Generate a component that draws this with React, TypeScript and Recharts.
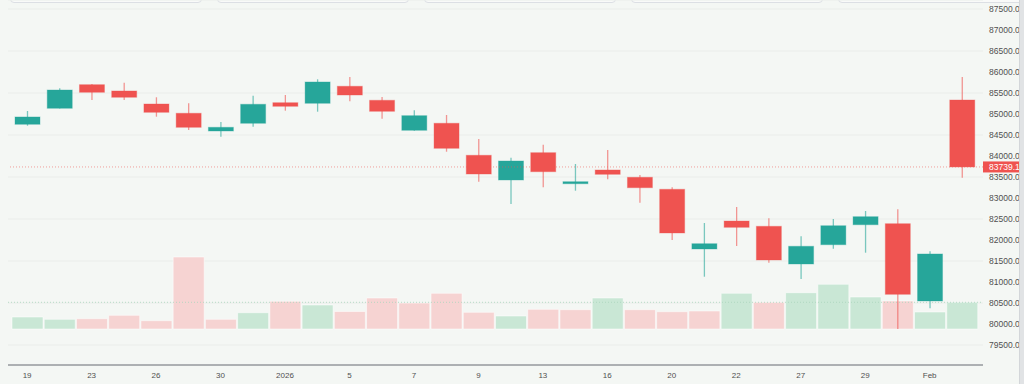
import { Bar, CartesianGrid, Cell, ComposedChart, ReferenceLine, XAxis, YAxis } from "recharts";

const days = ["19", "22", "23", "24", "26", "29", "30", "31", "2026", "2", "5", "6", "7", "8", "9", "12", "13", "14", "16", "19", "20", "21", "22", "23", "27", "28", "29", "30", "Feb", "2"];

const opens = [84755, 85136, 85698, 85548, 85238, 85017, 84595, 84779, 85269, 85255, 85660, 85326, 84612, 84779, 84017, 83429, 84079, 83340, 83667, 83493, 83207, 81786, 82452, 82326, 81429, 81888, 82364, 82388, 80548, 85333];
const highs = [85071, 85612, 85714, 85745, 85398, 85255, 84810, 85436, 85452, 85826, 85881, 85405, 85088, 84976, 84405, 83960, 84269, 83810, 84143, 83548, 83255, 82405, 82786, 82517, 82088, 82500, 82690, 82731, 81731, 85881];
const lows = [84721, 85130, 85333, 85333, 84936, 84619, 84460, 84698, 85079, 85055, 85302, 84888, 84600, 84102, 83388, 82857, 83255, 83174, 83445, 82888, 82000, 81126, 81857, 81460, 81071, 81793, 81698, 79881, 80374, 83483];
const closes = [84929, 85571, 85517, 85398, 85040, 84683, 84683, 85231, 85183, 85762, 85452, 85064, 84960, 84183, 83571, 83881, 83626, 83388, 83564, 83245, 82167, 81912, 82302, 81524, 81850, 82340, 82555, 80707, 81667, 83739.13];

const volumes = [1200, 970, 1030, 1370, 830, 7200, 970, 1630, 2770, 2400, 1750, 3100, 2600, 3570, 1670, 1300, 1970, 1930, 3100, 1930, 1730, 1800, 3570, 2670, 3630, 4470, 3200, 2800, 1700, 2670];
const volumeSide = ["up", "up", "down", "down", "down", "down", "down", "up", "down", "up", "down", "down", "down", "down", "down", "up", "down", "down", "up", "down", "down", "down", "up", "down", "up", "up", "up", "down", "up", "up"];

const priceTicks = [79500, 80000, 80500, 81000, 81500, 82000, 82500, 83000, 83500, 84000, 84500, 85000, 85500, 86000, 86500, 87000, 87500];

const lastPrice = closes[closes.length - 1];
const lastVolume = volumes[volumes.length - 1];

const UP = "#26a69a";
const DOWN = "#ef5350";
const VOL_UP = "#c9e7d5";
const VOL_DOWN = "#f6d3d2";

const rows = days.map((day, i) => ({
  idx: i,
  day,
  open: opens[i],
  high: highs[i],
  low: lows[i],
  close: closes[i],
  volume: volumes[i],
}));

function Candle(props: any) {
  const { x, y, width, height, payload } = props;
  if (!payload) return null;
  const { open, close, high, low } = payload;
  const color = close >= open ? UP : DOWN;
  const top = Math.min(y, y + height);
  const h = Math.abs(height);
  const k = high === low ? 0 : h / (high - low);
  const yO = top + (high - open) * k;
  const yC = top + (high - close) * k;
  const bodyTop = Math.min(yO, yC);
  const bodyH = Math.max(Math.abs(yO - yC), 1.5);
  const cx = x + width / 2;
  return (
    <g>
      <line x1={cx} x2={cx} y1={top} y2={top + h} stroke={color} strokeOpacity={0.6} strokeWidth={1.3} />
      <rect x={x} y={bodyTop} width={width} height={bodyH} fill={color} stroke={color} strokeOpacity={0.35} strokeWidth={1} />
    </g>
  );
}

function PriceTag(props: any) {
  const vb = props.viewBox || {};
  const right = (vb.x || 0) + (vb.width || 0);
  return (
    <g>
      <rect x={right} y={vb.y - 5.5} width={41} height={11} fill={DOWN} />
      <text x={right + 6} y={vb.y + 3} fill="#fff" fontSize={8.5} fontFamily="Liberation Sans, Arial, sans-serif">
        {lastPrice.toFixed(2)}
      </text>
    </g>
  );
}

const topTabs = [10, 217, 424, 631, 838];

export default function App() {
  return (
    <div style={{ position: "absolute", left: 0, top: 0, width: 1024, height: 384, background: "#f4f7f4", overflow: "hidden", fontFamily: "Liberation Sans, Arial, sans-serif" }}>
      {topTabs.map((left) => (
        <div key={left} style={{ position: "absolute", left, top: -20, width: 190, height: 21, border: "1px solid #dcdfe4", borderRadius: 4, background: "#f9faf9" }} />
      ))}
      <ComposedChart width={1024} height={384} data={rows} margin={{ top: 0, right: 0, bottom: 0, left: 8 }}>
        <CartesianGrid vertical={false} xAxisId="c" yAxisId="price" stroke="#eaedea" />
        <XAxis
          xAxisId="c"
          dataKey="idx"
          type="category"
          interval={1}
          padding={{ left: 3, right: 5 }}
          height={19}
          tickLine={false}
          tickSize={5}
          stroke="#6b6f76"
          tick={{ fontSize: 8, fill: "#505050" }}
          tickFormatter={(i: number) => days[i]}
        />
        <XAxis xAxisId="v" dataKey="idx" type="category" hide padding={{ left: 3, right: 5 }} />
        <YAxis
          yAxisId="price"
          orientation="right"
          domain={[79024, 87714]}
          ticks={priceTicks}
          allowDataOverflow
          width={41}
          tickLine={false}
          axisLine={false}
          tickSize={0}
          tickMargin={6}
          tick={{ fontSize: 8.5, fill: "#505050", textAnchor: "start" }}
          tickFormatter={(v: number) => v.toFixed(2)}
        />
        <YAxis yAxisId="vol" hide domain={[-3600, 32900]} allowDataOverflow />
        <Bar xAxisId="v" yAxisId="vol" dataKey="volume" barSize={31} isAnimationActive={false}>
          {rows.map((r, i) => (
            <Cell key={r.idx} fill={volumeSide[i] === "up" ? VOL_UP : VOL_DOWN} stroke="#ffffff" strokeOpacity={0.5} />
          ))}
        </Bar>
        <ReferenceLine xAxisId="v" yAxisId="vol" y={lastVolume} stroke="#a9d6bd" strokeDasharray="1 2" strokeOpacity={0.8} />
        <Bar
          xAxisId="c"
          yAxisId="price"
          dataKey={(d: any) => [d.low, d.high]}
          barSize={25}
          isAnimationActive={false}
          shape={(p: any) => <Candle {...p} />}
        />
        <ReferenceLine
          xAxisId="c"
          yAxisId="price"
          y={lastPrice}
          stroke={DOWN}
          strokeOpacity={0.55}
          strokeDasharray="1 2"
          label={(p: any) => <PriceTag {...p} />}
        />
      </ComposedChart>
      <div style={{ position: "absolute", left: 1019, top: 0, width: 5, height: 384, background: "#e1e3e5", borderLeft: "1px solid #d3d6d9" }} />
    </div>
  );
}
